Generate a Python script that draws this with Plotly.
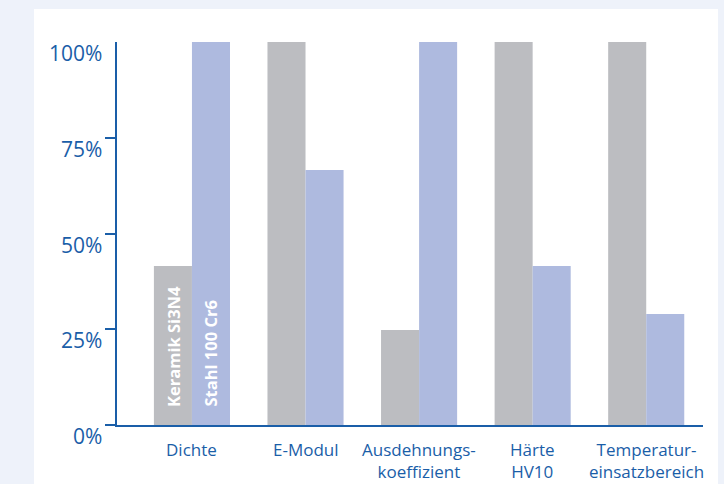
import plotly.graph_objects as go

categories = ["Dichte", "E-Modul", "Ausdehnungs-<br>koeffizient", "Härte<br>HV10", "Temperatur-<br>einsatzbereich"]
series_names = ["Keramik Si3N4", "Stahl 100 Cr6"]
keramik = [0.415, 1.0, 0.248, 1.0, 1.0]
stahl = [1.0, 0.666, 1.0, 0.415, 0.29]
ytick_vals = [0, 0.25, 0.5, 0.75, 1.0]
ytick_text = ["0%", "25%", "50%", "75%", "100%"]

TXT = "#1a5ea8"
GRAY = "#bcbdc1"
BLUE = "#aebadf"
BG = "#eef2fa"
FONT = "Open Sans"

xs = list(range(len(categories)))
fig = go.Figure()
fig.add_trace(go.Bar(x=xs, y=keramik, name=series_names[0], marker_color=GRAY, marker_line_width=0))
fig.add_trace(go.Bar(x=xs, y=stahl, name=series_names[1], marker_color=BLUE, marker_line_width=0))

fig.update_layout(
    width=724, height=484,
    margin=dict(l=117, r=21, t=42, b=59),
    paper_bgcolor=BG,
    plot_bgcolor="white",
    barmode="group",
    bargap=0.33, bargroupgap=0,
    showlegend=False,
    font=dict(family=FONT, color=TXT),
)
# white panel
fig.add_shape(type="rect", xref="paper", yref="paper", layer="below",
              x0=-(117 - 34) / 586, x1=(718 - 117) / 586, y0=-59 / 383 - 0.01, y1=1 + 33 / 383,
              fillcolor="white", line_width=0)

fig.update_xaxes(range=[-0.66, 4.5], tickvals=xs, showticklabels=False,
                 showline=True, linecolor=TXT, linewidth=2, ticks="",
                 showgrid=False, zeroline=False)
fig.update_yaxes(range=[0, 1], tickvals=[0, 0.25, 0.5, 0.75], showticklabels=False,
                 ticks="outside", ticklen=10, tickwidth=1.5, tickcolor=TXT,
                 showline=True, linecolor=TXT, linewidth=1.5, showgrid=False, zeroline=False)

for v, t in zip(ytick_vals, ytick_text):
    fig.add_annotation(xref="paper", yref="y", x=0, y=v, text=t, showarrow=False,
                       xanchor="right", yanchor="middle", xshift=-13, yshift=-11,
                       font=dict(size=21, color=TXT, family=FONT))

# category labels
for x, cat in zip(xs, categories):
    fig.add_annotation(xref="x", yref="paper", x=x, y=0, text=cat, showarrow=False,
                       xanchor="center", yanchor="top", yshift=-11,
                       font=dict(size=17, color=TXT, family=FONT))

# series labels inside first group
for name, off in zip(series_names, [-0.168, 0.168]):
    fig.add_annotation(xref="x", yref="paper", x=0 + off, y=0.043, text="<b>%s</b>" % name,
                       textangle=-90, showarrow=False, xanchor="center", yanchor="bottom",
                       font=dict(size=16.5, color="white", family=FONT))

fig.write_html("out.html", config={"displayModeBar": False},
               post_script="document.body.style.margin='0';document.body.style.background='%s';" % BG)
